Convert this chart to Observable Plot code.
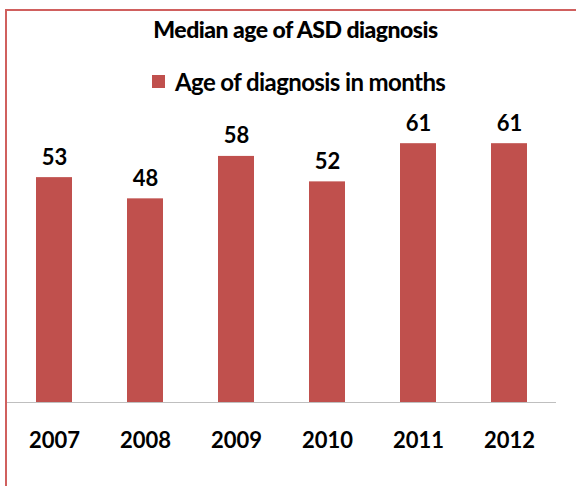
<!DOCTYPE html>
<html><head><meta charset="utf-8">
<script src="https://cdn.jsdelivr.net/npm/d3@7"></script>
<script src="https://cdn.jsdelivr.net/npm/@observablehq/plot@0.6"></script>
<style>
body{margin:0;background:#fff;}
#wrap{position:relative;width:576px;height:486px;overflow:hidden;font-family:Lato,"Open Sans",sans-serif;}
#frame{position:absolute;left:5px;top:9px;width:600px;height:600px;border-left:2px solid #d0605e;border-top:2px solid #d0605e;box-sizing:border-box;}
#title{position:absolute;left:0;width:591px;top:15px;text-align:center;font-weight:900;font-size:23px;letter-spacing:-0.5px;color:#000;}
#legend{position:absolute;left:152px;top:67px;font-size:24px;letter-spacing:-0.6px;font-weight:700;color:#000;display:flex;align-items:center;}
#legend span.sw{display:inline-block;width:13px;height:13px;background:#c0504d;margin-right:10px;}
#chart{position:absolute;left:0;top:0;}
</style></head>
<body>
<div id="wrap">
<div id="frame"></div>
<div id="chart"></div>
<div id="title">Median age of ASD diagnosis</div>
<div id="legend"><span class="sw"></span><span>Age of diagnosis in months</span></div>
</div>
<script>
const years = ["2007","2008","2009","2010","2011","2012"];
const ages = [53,48,58,52,61,61];
const seriesName = "Age of diagnosis in months";
const data = years.map((y,i)=>({year:y, age:ages[i]}));
const chart = Plot.plot({
  width:576, height:486,
  marginTop:105, marginBottom:84, marginLeft:7, marginRight:20,
  style:{fontFamily:"Lato, 'Open Sans', sans-serif", background:"transparent"},
  x:{domain:years, paddingInner:0.6, paddingOuter:0.3, axis:null},
  y:{domain:[0,70], axis:null},
  marks:[
    Plot.barY(data,{x:"year", y:"age", fill:"#c0504d"}),
    Plot.ruleY([0],{stroke:"#bfbfbf", strokeWidth:1}),
    Plot.text(data,{x:"year", y:"age", text:d=>String(d.age), dy:-20, fontSize:22, fontWeight:"bold", fill:"#000"}),
    Plot.axisX({tickSize:0, tickPadding:30, fontSize:22, fontWeight:"bold", color:"#000", label:null})
  ]
});
document.getElementById("chart").appendChild(chart);
</script>
</body></html>
